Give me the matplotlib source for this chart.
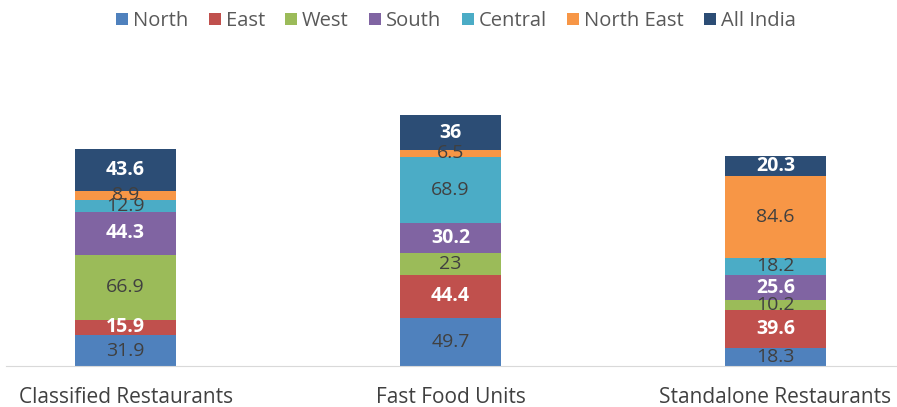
import matplotlib.pyplot as plt
import numpy as np

plt.rcParams['font.family'] = ['Open Sans', 'DejaVu Sans']

categories = ['Classified Restaurants', 'Fast Food Units', 'Standalone Restaurants']
series = ['North', 'East', 'West', 'South', 'Central', 'North East', 'All India']
values = {
    'North':      [31.9, 49.7, 18.3],
    'East':       [15.9, 44.4, 39.6],
    'West':       [66.9, 23.0, 10.2],
    'South':      [44.3, 30.2, 25.6],
    'Central':    [12.9, 68.9, 18.2],
    'North East': [8.9, 6.5, 84.6],
    'All India':  [43.6, 36.0, 20.3],
}
colors = ['#4F81BD', '#C0504D', '#9BBB59', '#8064A2', '#4BACC6', '#F79646', '#2C4D75']
white_labels = ['East', 'South', 'All India']

fig = plt.figure(figsize=(8.97, 4.07), dpi=100)
ax = fig.add_axes([6 / 897, (407 - 366) / 407, 1 - 6 / 897, (366 - 60) / 407])

x = np.arange(len(categories))
bottom = np.zeros(len(categories))
for name, col in zip(series, colors):
    vals = np.array(values[name])
    ax.bar(x, vals, 0.31, bottom=bottom, color=col, label=name)
    white = name in white_labels
    for xi, b, v in zip(x, bottom, vals):
        ax.text(xi, b + v / 2, f'{v:g}', ha='center', va='center', fontsize=14,
                color='white' if white else '#404040',
                fontweight='bold' if white else 'normal')
    bottom += vals

ax.set_xlim(-0.368, 2.374)
ax.set_ylim(0, 316)
ax.set_yticks([])
ax.set_xticks(x)
ax.set_xticklabels(categories, fontsize=15, color='#404040')
ax.tick_params(axis='x', length=0, pad=15)
for s in ['top', 'right', 'left']:
    ax.spines[s].set_visible(False)
ax.spines['bottom'].set_color('#D9D9D9')

fig.legend(loc='center', bbox_to_anchor=(456 / 897, 1 - 21 / 407), ncol=7, frameon=False,
           fontsize=14.5, handlelength=0.6, handleheight=0.6, handletextpad=0.25,
           columnspacing=1.0, labelcolor='#595959')

fig.savefig('out.png', dpi=100)
